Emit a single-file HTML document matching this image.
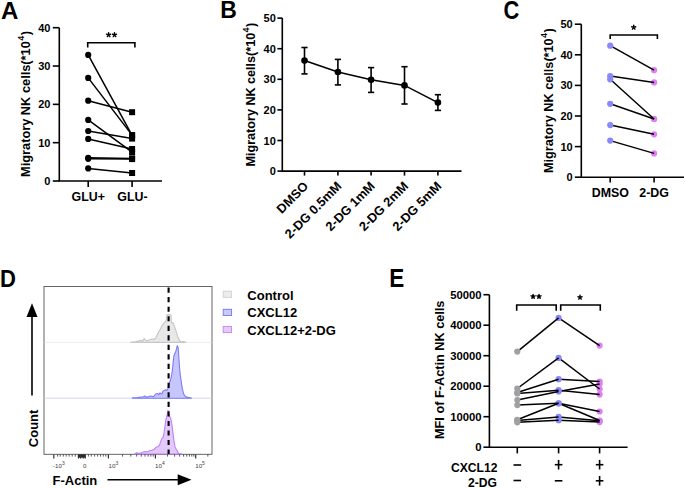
<!DOCTYPE html>
<html><head><meta charset="utf-8"><style>
html,body{margin:0;padding:0;background:#fff;}
svg{display:block;}
text{font-family:"Liberation Sans", sans-serif;fill:#000;}
</style></head><body>
<svg width="685" height="488" viewBox="0 0 685 488">
<rect width="685" height="488" fill="#fff"/>
<text transform="translate(1.0,18.6) scale(1.07,1.1)" font-size="22.5" font-weight="bold">A</text>
<polyline points="59.3,27.7 59.3,181.0 162,181.0" fill="none" stroke="#000" stroke-width="1.6" stroke-linejoin="miter"/>
<line x1="52.8" y1="181.0" x2="59.3" y2="181.0" stroke="#000" stroke-width="1.6" />
<text x="50.4" y="185.0" font-size="11" text-anchor="end" font-weight="bold" >0</text>
<line x1="52.8" y1="142.675" x2="59.3" y2="142.675" stroke="#000" stroke-width="1.6" />
<text x="50.4" y="146.675" font-size="11" text-anchor="end" font-weight="bold" >10</text>
<line x1="52.8" y1="104.35" x2="59.3" y2="104.35" stroke="#000" stroke-width="1.6" />
<text x="50.4" y="108.35" font-size="11" text-anchor="end" font-weight="bold" >20</text>
<line x1="52.8" y1="66.02499999999999" x2="59.3" y2="66.02499999999999" stroke="#000" stroke-width="1.6" />
<text x="50.4" y="70.02499999999999" font-size="11" text-anchor="end" font-weight="bold" >30</text>
<line x1="52.8" y1="27.69999999999999" x2="59.3" y2="27.69999999999999" stroke="#000" stroke-width="1.6" />
<text x="50.4" y="31.69999999999999" font-size="11" text-anchor="end" font-weight="bold" >40</text>
<line x1="88.2" y1="181.0" x2="88.2" y2="187" stroke="#000" stroke-width="1.6" />
<line x1="132.1" y1="181.0" x2="132.1" y2="187" stroke="#000" stroke-width="1.6" />
<text x="88.2" y="200.8" font-size="12.4" text-anchor="middle" font-weight="bold" >GLU+</text>
<text x="132.5" y="200.8" font-size="12.4" text-anchor="middle" font-weight="bold" >GLU-</text>
<text transform="translate(30.3,104.0) rotate(-90)" font-size="12.8" text-anchor="middle" font-weight="bold">Migratory NK cells(*10<tspan font-size="9" dx="0.4" dy="-6">4</tspan><tspan dx="0.5" dy="6">)</tspan></text>
<polyline points="87.7,47.5 87.7,42.8 134.9,42.8 134.9,47.5" fill="none" stroke="#000" stroke-width="1.6" stroke-linejoin="miter"/>
<path d="M108.6,34.9L108.60,32.80M108.6,34.9L110.60,34.25M108.6,34.9L109.83,36.60M108.6,34.9L107.37,36.60M108.6,34.9L106.60,34.25" stroke="#000" stroke-width="1.45" stroke-linecap="round" fill="none"/>
<path d="M114.5,34.9L114.50,32.80M114.5,34.9L116.50,34.25M114.5,34.9L115.73,36.60M114.5,34.9L113.27,36.60M114.5,34.9L112.50,34.25" stroke="#000" stroke-width="1.45" stroke-linecap="round" fill="none"/>
<line x1="88.2" y1="54.9" x2="132.1" y2="135.3" stroke="#000" stroke-width="1.5" />
<line x1="88.2" y1="77.9" x2="132.1" y2="135.1" stroke="#000" stroke-width="1.5" />
<line x1="88.2" y1="100.7" x2="132.1" y2="112.2" stroke="#000" stroke-width="1.5" />
<line x1="88.2" y1="119.9" x2="132.1" y2="152.2" stroke="#000" stroke-width="1.5" />
<line x1="88.2" y1="131" x2="132.1" y2="138.6" stroke="#000" stroke-width="1.5" />
<line x1="88.2" y1="138.9" x2="132.1" y2="149" stroke="#000" stroke-width="1.5" />
<line x1="88.2" y1="157.8" x2="132.1" y2="158.4" stroke="#000" stroke-width="1.5" />
<line x1="88.2" y1="158.8" x2="132.1" y2="159.1" stroke="#000" stroke-width="1.5" />
<line x1="88.2" y1="168.4" x2="132.1" y2="173" stroke="#000" stroke-width="1.5" />
<circle cx="88.2" cy="54.9" r="3.1" fill="#000"/>
<rect x="129.1" y="132.3" width="6" height="6" fill="#000"/>
<circle cx="88.2" cy="77.9" r="3.1" fill="#000"/>
<rect x="129.1" y="132.1" width="6" height="6" fill="#000"/>
<circle cx="88.2" cy="100.7" r="3.1" fill="#000"/>
<rect x="129.1" y="109.2" width="6" height="6" fill="#000"/>
<circle cx="88.2" cy="119.9" r="3.1" fill="#000"/>
<rect x="129.1" y="149.2" width="6" height="6" fill="#000"/>
<circle cx="88.2" cy="131" r="3.1" fill="#000"/>
<rect x="129.1" y="135.6" width="6" height="6" fill="#000"/>
<circle cx="88.2" cy="138.9" r="3.1" fill="#000"/>
<rect x="129.1" y="146" width="6" height="6" fill="#000"/>
<circle cx="88.2" cy="157.8" r="3.1" fill="#000"/>
<rect x="129.1" y="155.4" width="6" height="6" fill="#000"/>
<circle cx="88.2" cy="158.8" r="3.1" fill="#000"/>
<rect x="129.1" y="156.1" width="6" height="6" fill="#000"/>
<circle cx="88.2" cy="168.4" r="3.1" fill="#000"/>
<rect x="129.1" y="170" width="6" height="6" fill="#000"/>
<text transform="translate(220.3,17.7) scale(1.02,1.1)" font-size="22.5" font-weight="bold">B</text>
<polyline points="282.3,18.099999999999994 282.3,171.1 461.5,171.1" fill="none" stroke="#000" stroke-width="1.6" stroke-linejoin="miter"/>
<line x1="277.4" y1="171.1" x2="282.3" y2="171.1" stroke="#000" stroke-width="1.6" />
<text x="275.8" y="175.1" font-size="11" text-anchor="end" font-weight="bold" >0</text>
<line x1="277.4" y1="140.5" x2="282.3" y2="140.5" stroke="#000" stroke-width="1.6" />
<text x="275.8" y="144.5" font-size="11" text-anchor="end" font-weight="bold" >10</text>
<line x1="277.4" y1="109.89999999999999" x2="282.3" y2="109.89999999999999" stroke="#000" stroke-width="1.6" />
<text x="275.8" y="113.89999999999999" font-size="11" text-anchor="end" font-weight="bold" >20</text>
<line x1="277.4" y1="79.3" x2="282.3" y2="79.3" stroke="#000" stroke-width="1.6" />
<text x="275.8" y="83.3" font-size="11" text-anchor="end" font-weight="bold" >30</text>
<line x1="277.4" y1="48.69999999999999" x2="282.3" y2="48.69999999999999" stroke="#000" stroke-width="1.6" />
<text x="275.8" y="52.69999999999999" font-size="11" text-anchor="end" font-weight="bold" >40</text>
<line x1="277.4" y1="18.099999999999994" x2="282.3" y2="18.099999999999994" stroke="#000" stroke-width="1.6" />
<text x="275.8" y="22.099999999999994" font-size="11" text-anchor="end" font-weight="bold" >50</text>
<line x1="304.5" y1="171.1" x2="304.5" y2="175.6" stroke="#000" stroke-width="1.6" />
<line x1="337.9" y1="171.1" x2="337.9" y2="175.6" stroke="#000" stroke-width="1.6" />
<line x1="371.1" y1="171.1" x2="371.1" y2="175.6" stroke="#000" stroke-width="1.6" />
<line x1="404.5" y1="171.1" x2="404.5" y2="175.6" stroke="#000" stroke-width="1.6" />
<line x1="437.9" y1="171.1" x2="437.9" y2="175.6" stroke="#000" stroke-width="1.6" />
<polyline points="304.5,60.6 337.9,72 371.1,79.8 404.5,85.4 437.9,102.6" fill="none" stroke="#000" stroke-width="1.6" stroke-linejoin="miter"/>
<line x1="304.5" y1="47.5" x2="304.5" y2="73.9" stroke="#000" stroke-width="1.6" />
<line x1="301.4" y1="47.5" x2="307.6" y2="47.5" stroke="#000" stroke-width="1.6" />
<line x1="301.4" y1="73.9" x2="307.6" y2="73.9" stroke="#000" stroke-width="1.6" />
<line x1="337.9" y1="59.4" x2="337.9" y2="84.9" stroke="#000" stroke-width="1.6" />
<line x1="334.79999999999995" y1="59.4" x2="341.0" y2="59.4" stroke="#000" stroke-width="1.6" />
<line x1="334.79999999999995" y1="84.9" x2="341.0" y2="84.9" stroke="#000" stroke-width="1.6" />
<line x1="371.1" y1="67.6" x2="371.1" y2="92.4" stroke="#000" stroke-width="1.6" />
<line x1="368.0" y1="67.6" x2="374.20000000000005" y2="67.6" stroke="#000" stroke-width="1.6" />
<line x1="368.0" y1="92.4" x2="374.20000000000005" y2="92.4" stroke="#000" stroke-width="1.6" />
<line x1="404.5" y1="66.7" x2="404.5" y2="104" stroke="#000" stroke-width="1.6" />
<line x1="401.4" y1="66.7" x2="407.6" y2="66.7" stroke="#000" stroke-width="1.6" />
<line x1="401.4" y1="104" x2="407.6" y2="104" stroke="#000" stroke-width="1.6" />
<line x1="437.9" y1="94.7" x2="437.9" y2="110.4" stroke="#000" stroke-width="1.6" />
<line x1="434.79999999999995" y1="94.7" x2="441.0" y2="94.7" stroke="#000" stroke-width="1.6" />
<line x1="434.79999999999995" y1="110.4" x2="441.0" y2="110.4" stroke="#000" stroke-width="1.6" />
<circle cx="304.5" cy="60.6" r="3.3" fill="#000"/>
<circle cx="337.9" cy="72" r="3.3" fill="#000"/>
<circle cx="371.1" cy="79.8" r="3.3" fill="#000"/>
<circle cx="404.5" cy="85.4" r="3.3" fill="#000"/>
<circle cx="437.9" cy="102.6" r="3.3" fill="#000"/>
<text transform="translate(309.0,187) rotate(-45)" font-size="12.8" text-anchor="end" font-weight="bold">DMSO</text>
<text transform="translate(342.4,187) rotate(-45)" font-size="12.8" text-anchor="end" font-weight="bold">2-DG 0.5mM</text>
<text transform="translate(375.6,187) rotate(-45)" font-size="12.8" text-anchor="end" font-weight="bold">2-DG 1mM</text>
<text transform="translate(409.0,187) rotate(-45)" font-size="12.8" text-anchor="end" font-weight="bold">2-DG 2mM</text>
<text transform="translate(442.4,187) rotate(-45)" font-size="12.8" text-anchor="end" font-weight="bold">2-DG 5mM</text>
<text transform="translate(255.0,94.6) rotate(-90)" font-size="12.6" text-anchor="middle" font-weight="bold">Migratory NK cells(*10<tspan font-size="9" dx="0.4" dy="-6">4</tspan><tspan dx="0.5" dy="6">)</tspan></text>
<text transform="translate(503.4,19.0) scale(0.97,1.13)" font-size="22.5" font-weight="bold">C</text>
<polyline points="581.3,24.19999999999999 581.3,177.2 684,177.2" fill="none" stroke="#000" stroke-width="1.6" stroke-linejoin="miter"/>
<line x1="574.8" y1="177.2" x2="581.3" y2="177.2" stroke="#000" stroke-width="1.6" />
<text x="572.7" y="181.2" font-size="11" text-anchor="end" font-weight="bold" >0</text>
<line x1="574.8" y1="146.6" x2="581.3" y2="146.6" stroke="#000" stroke-width="1.6" />
<text x="572.7" y="150.6" font-size="11" text-anchor="end" font-weight="bold" >10</text>
<line x1="574.8" y1="115.99999999999999" x2="581.3" y2="115.99999999999999" stroke="#000" stroke-width="1.6" />
<text x="572.7" y="119.99999999999999" font-size="11" text-anchor="end" font-weight="bold" >20</text>
<line x1="574.8" y1="85.39999999999999" x2="581.3" y2="85.39999999999999" stroke="#000" stroke-width="1.6" />
<text x="572.7" y="89.39999999999999" font-size="11" text-anchor="end" font-weight="bold" >30</text>
<line x1="574.8" y1="54.79999999999998" x2="581.3" y2="54.79999999999998" stroke="#000" stroke-width="1.6" />
<text x="572.7" y="58.79999999999998" font-size="11" text-anchor="end" font-weight="bold" >40</text>
<line x1="574.8" y1="24.19999999999999" x2="581.3" y2="24.19999999999999" stroke="#000" stroke-width="1.6" />
<text x="572.7" y="28.19999999999999" font-size="11" text-anchor="end" font-weight="bold" >50</text>
<line x1="610.2" y1="177.2" x2="610.2" y2="182.6" stroke="#000" stroke-width="1.6" />
<line x1="654.1" y1="177.2" x2="654.1" y2="182.6" stroke="#000" stroke-width="1.6" />
<text x="610.4000000000001" y="197.3" font-size="12.4" text-anchor="middle" font-weight="bold" >DMSO</text>
<text x="654.1" y="197.3" font-size="12.4" text-anchor="middle" font-weight="bold" >2-DG</text>
<text transform="translate(553.2,100.6) rotate(-90)" font-size="12.7" text-anchor="middle" font-weight="bold">Migratory NK cells(*10<tspan font-size="9" dx="0.4" dy="-6">4</tspan><tspan dx="0.5" dy="6">)</tspan></text>
<polyline points="610.2,39 610.2,35 657.4,35 657.4,39" fill="none" stroke="#000" stroke-width="1.6" stroke-linejoin="miter"/>
<path d="M633.7,27.35L633.70,25.25M633.7,27.35L635.70,26.70M633.7,27.35L634.93,29.05M633.7,27.35L632.47,29.05M633.7,27.35L631.70,26.70" stroke="#000" stroke-width="1.45" stroke-linecap="round" fill="none"/>
<circle cx="654.1" cy="70.2" r="3.1" fill="#dd80f4"/>
<circle cx="654.1" cy="82.4" r="3.1" fill="#dd80f4"/>
<circle cx="654.1" cy="119" r="3.1" fill="#dd80f4"/>
<circle cx="654.1" cy="119" r="3.1" fill="#dd80f4"/>
<circle cx="654.1" cy="134.3" r="3.1" fill="#dd80f4"/>
<circle cx="654.1" cy="153.4" r="3.1" fill="#dd80f4"/>
<line x1="610.2" y1="45.7" x2="654.1" y2="70.2" stroke="#000" stroke-width="1.5" />
<line x1="610.2" y1="76.1" x2="654.1" y2="82.4" stroke="#000" stroke-width="1.5" />
<line x1="610.2" y1="79.3" x2="654.1" y2="119" stroke="#000" stroke-width="1.5" />
<line x1="610.2" y1="103.8" x2="654.1" y2="119" stroke="#000" stroke-width="1.5" />
<line x1="610.2" y1="125.1" x2="654.1" y2="134.3" stroke="#000" stroke-width="1.5" />
<line x1="610.2" y1="140.6" x2="654.1" y2="153.4" stroke="#000" stroke-width="1.5" />
<circle cx="610.2" cy="45.7" r="3.1" fill="#8888f8"/>
<circle cx="610.2" cy="76.1" r="3.1" fill="#8888f8"/>
<circle cx="610.2" cy="79.3" r="3.1" fill="#8888f8"/>
<circle cx="610.2" cy="103.8" r="3.1" fill="#8888f8"/>
<circle cx="610.2" cy="125.1" r="3.1" fill="#8888f8"/>
<circle cx="610.2" cy="140.6" r="3.1" fill="#8888f8"/>
<text transform="translate(-0.1,287.0) scale(0.98,1.1)" font-size="22.5" font-weight="bold">D</text>
<rect x="44" y="286.5" width="168" height="167.8" fill="none" stroke="#555" stroke-width="0.9"/>
<line x1="44.5" y1="342.4" x2="211.5" y2="342.4" stroke="#ececec" stroke-width="1" />
<line x1="44.5" y1="398.2" x2="211.5" y2="398.2" stroke="#d4d4fa" stroke-width="1" />
<polygon points="130.84,342.4 130.84,342.28 135.51,341.81 139.01,340.88 140.77,340.29 142.52,341.11 144.27,338.54 145.44,340.29 147.19,340.64 149.53,339.71 151.86,339.12 154.2,339.12 155.6,338.54 157.12,335.04 158.87,331.53 160.62,328.61 162.37,325.11 164.12,322.77 165.64,321.61 166.34,319.85 166.81,315.18 167.28,314.6 170.55,314.6 171.01,315.77 171.48,322.19 172.07,323.36 173.12,322.77 174.05,325.11 175.8,330.36 177.55,336.2 179.31,340.29 181.06,341.81 183.39,341.46 185.73,342.28 185.73,342.4" fill="#e8e8e8" stroke="#c6c6c6" stroke-width="1.1" stroke-linejoin="round"/>
<polygon points="132.37,398.2 132.37,397.76 137.29,397.51 143.43,396.77 144.66,395.91 145.89,397.14 149.58,396.53 150.81,395.91 153.26,396.77 155.72,394.07 157.57,393.46 158.79,394.69 160.02,392.84 161.87,394.07 163.1,391.0 164.32,390.38 165.55,389.77 166.78,390.38 168.01,388.54 168.99,384.24 169.85,381.78 171.08,378.1 172.31,370.72 173.17,362.12 173.91,355.98 174.77,353.52 175.63,351.67 176.61,348.6 177.23,345.53 178.09,347.37 178.7,354.75 179.32,364.58 180.05,373.18 180.91,379.32 181.77,385.47 182.76,390.38 183.74,394.07 185.22,396.53 187.06,397.14 188.9,397.51 191.36,398.0 191.36,398.2" fill="#c6c6fc" stroke="#7c7cfa" stroke-width="1.1" stroke-linejoin="round"/>
<polygon points="134.83,454 134.83,453.91 136.67,452.69 138.52,453.3 140.98,453.05 143.43,452.07 145.28,451.46 147.12,452.07 149.58,450.84 152.04,450.23 154.49,449.0 156.34,447.16 158.18,446.54 159.65,444.7 160.64,441.63 161.87,438.55 163.1,437.32 164.08,432.41 164.94,426.26 165.8,420.12 166.78,416.43 167.4,413.98 168.01,410.29 168.63,412.75 169.49,416.43 170.47,417.66 171.45,421.35 172.31,427.49 173.17,434.87 174.16,442.24 175.14,447.16 176.37,449.61 177.23,450.84 178.09,453.05 179.07,453.55 181.53,453.91 181.53,454" fill="#e4cafc" stroke="#c080fc" stroke-width="1.1" stroke-linejoin="round"/>
<line x1="168.6" y1="287.6" x2="168.6" y2="454" stroke="#000" stroke-width="2.1" stroke-dasharray="5.2 4.32"/>
<line x1="53.8" y1="454.4" x2="53.8" y2="458.59999999999997" stroke="#333" stroke-width="1.2" />
<line x1="108.4" y1="454.4" x2="108.4" y2="458.59999999999997" stroke="#333" stroke-width="1.2" />
<line x1="155.4" y1="454.4" x2="155.4" y2="458.59999999999997" stroke="#333" stroke-width="1.2" />
<line x1="195.7" y1="454.4" x2="195.7" y2="458.59999999999997" stroke="#333" stroke-width="1.2" />
<line x1="57.6" y1="454.4" x2="57.6" y2="456.59999999999997" stroke="#333" stroke-width="0.8" />
<line x1="60.2" y1="454.4" x2="60.2" y2="456.59999999999997" stroke="#333" stroke-width="0.8" />
<line x1="63.3" y1="454.4" x2="63.3" y2="456.59999999999997" stroke="#333" stroke-width="0.8" />
<line x1="66.2" y1="454.4" x2="66.2" y2="456.59999999999997" stroke="#333" stroke-width="0.8" />
<line x1="69.1" y1="454.4" x2="69.1" y2="456.59999999999997" stroke="#333" stroke-width="0.8" />
<line x1="72.2" y1="454.4" x2="72.2" y2="456.59999999999997" stroke="#333" stroke-width="0.8" />
<line x1="75.3" y1="454.4" x2="75.3" y2="456.59999999999997" stroke="#333" stroke-width="0.8" />
<rect x="77.9" y="454.4" width="7.8" height="3.3" fill="#222"/>
<line x1="78.4" y1="454.4" x2="78.4" y2="458.7" stroke="#333" stroke-width="1.0" />
<line x1="80.6" y1="454.4" x2="80.6" y2="458.7" stroke="#333" stroke-width="1.0" />
<line x1="83.2" y1="454.4" x2="83.2" y2="458.7" stroke="#333" stroke-width="1.0" />
<line x1="85.2" y1="454.4" x2="85.2" y2="458.7" stroke="#333" stroke-width="1.0" />
<line x1="88.4" y1="454.4" x2="88.4" y2="456.59999999999997" stroke="#333" stroke-width="0.8" />
<line x1="91.3" y1="454.4" x2="91.3" y2="456.59999999999997" stroke="#333" stroke-width="0.8" />
<line x1="94.6" y1="454.4" x2="94.6" y2="456.59999999999997" stroke="#333" stroke-width="0.8" />
<line x1="97.6" y1="454.4" x2="97.6" y2="456.59999999999997" stroke="#333" stroke-width="0.8" />
<line x1="100.5" y1="454.4" x2="100.5" y2="456.59999999999997" stroke="#333" stroke-width="0.8" />
<line x1="103.3" y1="454.4" x2="103.3" y2="456.59999999999997" stroke="#333" stroke-width="0.8" />
<line x1="105.8" y1="454.4" x2="105.8" y2="456.59999999999997" stroke="#333" stroke-width="0.8" />
<line x1="122.54840979620712" y1="454.4" x2="122.54840979620712" y2="456.59999999999997" stroke="#333" stroke-width="0.8" />
<line x1="130.82469897182415" y1="454.4" x2="130.82469897182415" y2="456.59999999999997" stroke="#333" stroke-width="0.8" />
<line x1="136.69681959241424" y1="454.4" x2="136.69681959241424" y2="456.59999999999997" stroke="#333" stroke-width="0.8" />
<line x1="141.2515902037929" y1="454.4" x2="141.2515902037929" y2="456.59999999999997" stroke="#333" stroke-width="0.8" />
<line x1="144.97310876803127" y1="454.4" x2="144.97310876803127" y2="456.59999999999997" stroke="#333" stroke-width="0.8" />
<line x1="148.11960788067006" y1="454.4" x2="148.11960788067006" y2="456.59999999999997" stroke="#333" stroke-width="0.8" />
<line x1="150.84522938862136" y1="454.4" x2="150.84522938862136" y2="456.59999999999997" stroke="#333" stroke-width="0.8" />
<line x1="153.24939794364826" y1="454.4" x2="153.24939794364826" y2="456.59999999999997" stroke="#333" stroke-width="0.8" />
<line x1="167.53150882525844" y1="454.4" x2="167.53150882525844" y2="456.59999999999997" stroke="#333" stroke-width="0.8" />
<line x1="174.6279865652024" y1="454.4" x2="174.6279865652024" y2="456.59999999999997" stroke="#333" stroke-width="0.8" />
<line x1="179.66301765051688" y1="454.4" x2="179.66301765051688" y2="456.59999999999997" stroke="#333" stroke-width="0.8" />
<line x1="183.56849117474155" y1="454.4" x2="183.56849117474155" y2="456.59999999999997" stroke="#333" stroke-width="0.8" />
<line x1="186.75949539046084" y1="454.4" x2="186.75949539046084" y2="456.59999999999997" stroke="#333" stroke-width="0.8" />
<line x1="189.45745101257455" y1="454.4" x2="189.45745101257455" y2="456.59999999999997" stroke="#333" stroke-width="0.8" />
<line x1="191.7945264757753" y1="454.4" x2="191.7945264757753" y2="456.59999999999997" stroke="#333" stroke-width="0.8" />
<line x1="193.85597313040478" y1="454.4" x2="193.85597313040478" y2="456.59999999999997" stroke="#333" stroke-width="0.8" />
<line x1="207.8303" y1="454.4" x2="207.8303" y2="456.59999999999997" stroke="#333" stroke-width="0.8" />
<text x="53" y="468.2" font-size="6.2" font-weight="normal" fill="#444" style="fill:#444">-10<tspan font-size="5" dy="-3.2">3</tspan></text>
<text x="83.1" y="468.2" font-size="6.2" font-weight="normal" style="fill:#444">0</text>
<text x="108.6" y="468.2" font-size="6.2" font-weight="normal" fill="#444" style="fill:#444">10<tspan font-size="5" dy="-3.2">3</tspan></text>
<text x="155" y="468.2" font-size="6.2" font-weight="normal" fill="#444" style="fill:#444">10<tspan font-size="5" dy="-3.2">4</tspan></text>
<text x="195.2" y="468.2" font-size="6.2" font-weight="normal" fill="#444" style="fill:#444">10<tspan font-size="5" dy="-3.2">5</tspan></text>
<line x1="32" y1="395.4" x2="32" y2="315" stroke="#000" stroke-width="1.6" />
<polygon points="32,303.3 26.5,317 37.5,317" fill="#000"/>
<line x1="107.5" y1="479.7" x2="180" y2="479.7" stroke="#000" stroke-width="1.6" />
<polygon points="191.5,479.7 177.7,474.2 177.7,485.2" fill="#000"/>
<text transform="translate(38,428.4) rotate(-90)" font-size="13" text-anchor="middle" font-weight="bold">Count</text>
<text x="52.5" y="484.6" font-size="13" text-anchor="start" font-weight="bold" >F-Actin</text>
<rect x="223.2" y="291.2" width="8.4" height="6.2" fill="#ececec" stroke="#d0d0d0" stroke-width="0.9"/>
<rect x="223.2" y="309.29999999999995" width="8.4" height="6.2" fill="#cacafa" stroke="#7676f0" stroke-width="0.9"/>
<rect x="223.2" y="326.4" width="8.4" height="6.2" fill="#e6caf8" stroke="#c484f0" stroke-width="0.9"/>
<text x="247.3" y="299.5" font-size="13" text-anchor="start" font-weight="bold" >Control</text>
<text x="247.3" y="316.6" font-size="13" text-anchor="start" font-weight="bold" >CXCL12</text>
<text x="247.3" y="335" font-size="13" text-anchor="start" font-weight="bold" >CXCL12+2-DG</text>
<text transform="translate(389.2,287.3) scale(1.0,1.12)" font-size="22.5" font-weight="bold">E</text>
<polyline points="489.4,294.7 489.4,447.2 627.6,447.2" fill="none" stroke="#000" stroke-width="1.6" stroke-linejoin="miter"/>
<line x1="483.4" y1="447.2" x2="489.4" y2="447.2" stroke="#000" stroke-width="1.6" />
<text x="481.6" y="451.2" font-size="11.3" text-anchor="end" font-weight="bold" >0</text>
<line x1="483.4" y1="416.7" x2="489.4" y2="416.7" stroke="#000" stroke-width="1.6" />
<text x="481.6" y="420.7" font-size="11.3" text-anchor="end" font-weight="bold" >10000</text>
<line x1="483.4" y1="386.2" x2="489.4" y2="386.2" stroke="#000" stroke-width="1.6" />
<text x="481.6" y="390.2" font-size="11.3" text-anchor="end" font-weight="bold" >20000</text>
<line x1="483.4" y1="355.7" x2="489.4" y2="355.7" stroke="#000" stroke-width="1.6" />
<text x="481.6" y="359.7" font-size="11.3" text-anchor="end" font-weight="bold" >30000</text>
<line x1="483.4" y1="325.2" x2="489.4" y2="325.2" stroke="#000" stroke-width="1.6" />
<text x="481.6" y="329.2" font-size="11.3" text-anchor="end" font-weight="bold" >40000</text>
<line x1="483.4" y1="294.7" x2="489.4" y2="294.7" stroke="#000" stroke-width="1.6" />
<text x="481.6" y="298.7" font-size="11.3" text-anchor="end" font-weight="bold" >50000</text>
<line x1="517.3" y1="447.2" x2="517.3" y2="453.4" stroke="#000" stroke-width="1.6" />
<line x1="558.6" y1="447.2" x2="558.6" y2="453.4" stroke="#000" stroke-width="1.6" />
<line x1="599.6" y1="447.2" x2="599.6" y2="453.4" stroke="#000" stroke-width="1.6" />
<text transform="translate(444.2,369.8) rotate(-90)" font-size="13" text-anchor="middle" font-weight="bold" textLength="138.4" lengthAdjust="spacingAndGlyphs">MFI of F-Actin NK cells</text>
<polyline points="516.6999999999999,310.7 516.6999999999999,305 556.2,305 556.2,310.7" fill="none" stroke="#000" stroke-width="1.6" stroke-linejoin="miter"/>
<polyline points="560.7,310.7 560.7,305 600.3,305 600.3,310.7" fill="none" stroke="#000" stroke-width="1.6" stroke-linejoin="miter"/>
<path d="M533.1,296.5L533.10,294.40M533.1,296.5L535.10,295.85M533.1,296.5L534.33,298.20M533.1,296.5L531.87,298.20M533.1,296.5L531.10,295.85" stroke="#000" stroke-width="1.45" stroke-linecap="round" fill="none"/>
<path d="M539,296.5L539.00,294.40M539,296.5L541.00,295.85M539,296.5L540.23,298.20M539,296.5L537.77,298.20M539,296.5L537.00,295.85" stroke="#000" stroke-width="1.45" stroke-linecap="round" fill="none"/>
<path d="M580,297.4L580.00,295.30M580,297.4L582.00,296.75M580,297.4L581.23,299.10M580,297.4L578.77,299.10M580,297.4L578.00,296.75" stroke="#000" stroke-width="1.45" stroke-linecap="round" fill="none"/>
<circle cx="599.6" cy="345.6" r="3.1" fill="#dd80f4"/>
<circle cx="599.6" cy="389" r="3.1" fill="#dd80f4"/>
<circle cx="599.6" cy="381.5" r="3.1" fill="#dd80f4"/>
<circle cx="599.6" cy="394.6" r="3.1" fill="#dd80f4"/>
<circle cx="599.6" cy="384" r="3.1" fill="#dd80f4"/>
<circle cx="599.6" cy="411.5" r="3.1" fill="#dd80f4"/>
<circle cx="599.6" cy="420.5" r="3.1" fill="#dd80f4"/>
<circle cx="599.6" cy="420.8" r="3.1" fill="#dd80f4"/>
<circle cx="599.6" cy="422.1" r="3.1" fill="#dd80f4"/>
<line x1="558.6" y1="317.9" x2="599.6" y2="345.6" stroke="#000" stroke-width="1.5" />
<line x1="558.6" y1="357.9" x2="599.6" y2="389" stroke="#000" stroke-width="1.5" />
<line x1="558.6" y1="379.2" x2="599.6" y2="381.5" stroke="#000" stroke-width="1.5" />
<line x1="558.6" y1="390.2" x2="599.6" y2="394.6" stroke="#000" stroke-width="1.5" />
<line x1="558.6" y1="391.5" x2="599.6" y2="384" stroke="#000" stroke-width="1.5" />
<line x1="558.6" y1="403.3" x2="599.6" y2="411.5" stroke="#000" stroke-width="1.5" />
<line x1="558.6" y1="403.3" x2="599.6" y2="420.5" stroke="#000" stroke-width="1.5" />
<line x1="558.6" y1="416.9" x2="599.6" y2="420.8" stroke="#000" stroke-width="1.5" />
<line x1="558.6" y1="420.2" x2="599.6" y2="422.1" stroke="#000" stroke-width="1.5" />
<circle cx="558.6" cy="317.9" r="3.1" fill="#8888f8"/>
<circle cx="558.6" cy="357.9" r="3.1" fill="#8888f8"/>
<circle cx="558.6" cy="379.2" r="3.1" fill="#8888f8"/>
<circle cx="558.6" cy="390.2" r="3.1" fill="#8888f8"/>
<circle cx="558.6" cy="391.5" r="3.1" fill="#8888f8"/>
<circle cx="558.6" cy="403.3" r="3.1" fill="#8888f8"/>
<circle cx="558.6" cy="403.3" r="3.1" fill="#8888f8"/>
<circle cx="558.6" cy="416.9" r="3.1" fill="#8888f8"/>
<circle cx="558.6" cy="420.2" r="3.1" fill="#8888f8"/>
<line x1="517.3" y1="351.6" x2="558.6" y2="317.9" stroke="#000" stroke-width="1.5" />
<line x1="517.3" y1="388.5" x2="558.6" y2="357.9" stroke="#000" stroke-width="1.5" />
<line x1="517.3" y1="392.5" x2="558.6" y2="379.2" stroke="#000" stroke-width="1.5" />
<line x1="517.3" y1="393.5" x2="558.6" y2="390.2" stroke="#000" stroke-width="1.5" />
<line x1="517.3" y1="400.1" x2="558.6" y2="391.5" stroke="#000" stroke-width="1.5" />
<line x1="517.3" y1="405.1" x2="558.6" y2="403.3" stroke="#000" stroke-width="1.5" />
<line x1="517.3" y1="419.8" x2="558.6" y2="403.3" stroke="#000" stroke-width="1.5" />
<line x1="517.3" y1="420.5" x2="558.6" y2="416.9" stroke="#000" stroke-width="1.5" />
<line x1="517.3" y1="422.3" x2="558.6" y2="420.2" stroke="#000" stroke-width="1.5" />
<circle cx="517.3" cy="351.6" r="3.1" fill="#a0a0a4"/>
<circle cx="517.3" cy="388.5" r="3.1" fill="#a0a0a4"/>
<circle cx="517.3" cy="392.5" r="3.1" fill="#a0a0a4"/>
<circle cx="517.3" cy="393.5" r="3.1" fill="#a0a0a4"/>
<circle cx="517.3" cy="400.1" r="3.1" fill="#a0a0a4"/>
<circle cx="517.3" cy="405.1" r="3.1" fill="#a0a0a4"/>
<circle cx="517.3" cy="419.8" r="3.1" fill="#a0a0a4"/>
<circle cx="517.3" cy="420.5" r="3.1" fill="#a0a0a4"/>
<circle cx="517.3" cy="422.3" r="3.1" fill="#a0a0a4"/>
<text x="497.4" y="471.6" font-size="12.1" text-anchor="end" font-weight="bold" >CXCL12</text>
<text x="497" y="487.3" font-size="12.1" text-anchor="end" font-weight="bold" >2-DG</text>
<line x1="513.5" y1="465" x2="521.0999999999999" y2="465" stroke="#000" stroke-width="1.6" />
<line x1="513.5" y1="480.5" x2="521.0999999999999" y2="480.5" stroke="#000" stroke-width="1.6" />
<line x1="554.8000000000001" y1="464.7" x2="562.4" y2="464.7" stroke="#000" stroke-width="1.6" />
<line x1="558.6" y1="459.9" x2="558.6" y2="469.5" stroke="#000" stroke-width="1.6" />
<line x1="554.8000000000001" y1="480.8" x2="562.4" y2="480.8" stroke="#000" stroke-width="1.6" />
<line x1="595.8000000000001" y1="464.7" x2="603.4" y2="464.7" stroke="#000" stroke-width="1.6" />
<line x1="599.6" y1="459.9" x2="599.6" y2="469.5" stroke="#000" stroke-width="1.6" />
<line x1="595.8000000000001" y1="480.8" x2="603.4" y2="480.8" stroke="#000" stroke-width="1.6" />
<line x1="599.6" y1="476.0" x2="599.6" y2="485.6" stroke="#000" stroke-width="1.6" />
</svg>
</body></html>
